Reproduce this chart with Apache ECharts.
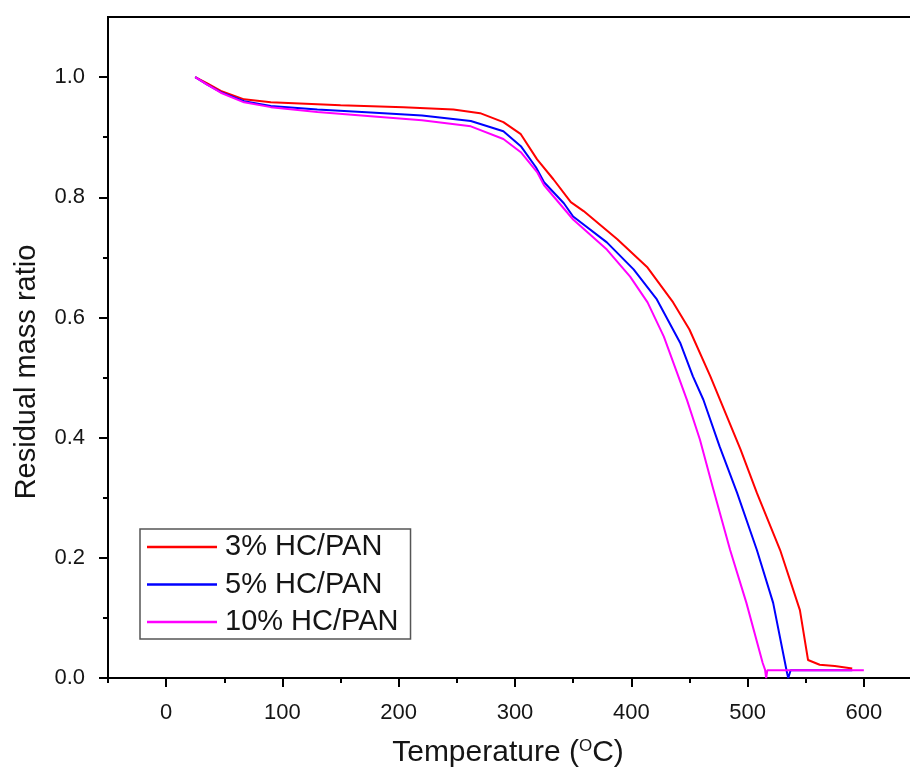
<!DOCTYPE html>
<html><head><meta charset="utf-8">
<script src="https://cdn.jsdelivr.net/npm/echarts@6/dist/echarts.min.js"></script>
<style>html,body{margin:0;padding:0;background:#fff;overflow:hidden}#c{width:922px;height:770px}</style>
</head><body><div id="c"></div>
<script>
const seriesNames = ['3% HC/PAN', '5% HC/PAN', '10% HC/PAN'];
const seriesColors = ['#ff0000', '#0000ff', '#ff00ff'];
const xTicks = [0, 100, 200, 300, 400, 500, 600];
const xMinorTicks = [-50, 50, 150, 250, 350, 450, 550, 650];
const yTicks = [0.0, 0.2, 0.4, 0.6, 0.8, 1.0];
const yMinorTicks = [0.1, 0.3, 0.5, 0.7, 0.9];

const tempRed = [25,35,47,67,90,150,204,247,270,290,305,319,333,348,359,388,414,436,450,468,494,508,528,545,552,562,575,590];
const massRed = [1.0,0.99,0.977,0.963,0.958,0.953,0.95,0.946,0.94,0.925,0.905,0.863,0.83,0.792,0.777,0.73,0.683,0.625,0.58,0.502,0.38,0.308,0.213,0.113,0.03,0.022,0.02,0.016];

const tempBlue = [25,35,47,67,90,130,176,220,262,290,305,318,325,342,350,379,402,422,442,453,462,476,491,508,522,534,535,537,590];
const massBlue = [1.0,0.988,0.975,0.96,0.952,0.946,0.941,0.936,0.927,0.91,0.885,0.85,0.825,0.79,0.768,0.725,0.68,0.63,0.558,0.502,0.463,0.385,0.308,0.213,0.125,0.008,0.0,0.013,0.013];

const tempMag = [25,35,47,67,90,130,176,220,262,290,305,319,325,350,379,399,414,428,439,448,459,470,485,499,513,515,516,517,600];
const massMag = [1.0,0.988,0.974,0.958,0.95,0.942,0.935,0.928,0.918,0.897,0.875,0.842,0.82,0.763,0.713,0.668,0.625,0.568,0.51,0.462,0.397,0.318,0.213,0.125,0.025,0.014,0.0,0.013,0.013];

const temps = [tempRed, tempBlue, tempMag];
const masses = [massRed, massBlue, massMag];

const font = '"Liberation Sans", Arial, sans-serif';
const ink = '#151515';
const chart = echarts.init(document.getElementById('c'), null, {renderer: 'canvas'});

function baseX(extra) {
  return Object.assign({
    type: 'value', min: -50, max: 650, interval: 50, gridIndex: 0, position: 'bottom',
    splitLine: {show: false}
  }, extra);
}
function baseY(extra) {
  return Object.assign({
    type: 'value', min: 0, max: 1.1, interval: 0.1, gridIndex: 0, position: 'left',
    splitLine: {show: false}
  }, extra);
}

chart.setOption({
  animation: false,
  backgroundColor: '#fff',
  textStyle: {fontFamily: font},
  grid: {left: 108, right: 0, top: 17, bottom: 92, show: true, borderColor: '#000', borderWidth: 2, containLabel: false},
  legend: {
    orient: 'vertical', left: 140, top: 529,
    data: seriesNames, icon: 'rect', itemWidth: 70, itemHeight: 2.5, itemGap: 7.5,
    padding: [3, 12, 2, 7], borderColor: '#555', borderWidth: 1.5,
    textStyle: {fontFamily: font, fontSize: 29, color: ink, lineHeight: 30, padding: [0, 0, 0, 3]}
  },
  xAxis: [
    baseX({
      axisLine: {onZero: false, lineStyle: {color: '#000', width: 2}},
      axisTick: {length: 9, customValues: xTicks, lineStyle: {color: '#000', width: 2}},
      axisLabel: {margin: 24, fontSize: 22, color: ink, fontFamily: font, customValues: xTicks}
    }),
    baseX({
      axisLine: {show: false, onZero: false},
      axisTick: {length: 5, customValues: xMinorTicks, lineStyle: {color: '#000', width: 2}},
      axisLabel: {show: false}
    })
  ],
  yAxis: [
    baseY({
      axisLine: {onZero: false, lineStyle: {color: '#000', width: 2}},
      axisTick: {length: 9, customValues: yTicks, lineStyle: {color: '#000', width: 2}},
      axisLabel: {margin: 23, fontSize: 22, color: ink, fontFamily: font, customValues: yTicks,
        formatter: function (v) { return v.toFixed(1); }}
    }),
    baseY({
      axisLine: {show: false, onZero: false},
      axisTick: {length: 5, customValues: yMinorTicks, lineStyle: {color: '#000', width: 2}},
      axisLabel: {show: false}
    })
  ],
  graphic: [
    {type: 'text', x: 508, y: 753, silent: true,
      style: {text: 'Temperature ({s|O}C)', fill: ink, font: '30px ' + font, align: 'center', verticalAlign: 'middle',
        rich: {s: {fontSize: 17, fontFamily: font, fill: ink, verticalAlign: 'bottom', padding: [0, 0, 14, 0]}}}},
    {type: 'text', x: 27, y: 372, rotation: Math.PI / 2, silent: true,
      style: {text: 'Residual mass ratio', fill: ink, font: '29px ' + font, align: 'center', verticalAlign: 'middle'}}
  ],
  series: seriesNames.map(function (n, k) {
    return {
      name: n, type: 'line', symbol: 'none', smooth: false,
      xAxisIndex: 0, yAxisIndex: 0,
      color: seriesColors[k],
      lineStyle: {color: seriesColors[k], width: 2},
      data: temps[k].map(function (t, i) { return [t, masses[k][i]]; }),
      z: 2 + k
    };
  })
});
</script></body></html>
